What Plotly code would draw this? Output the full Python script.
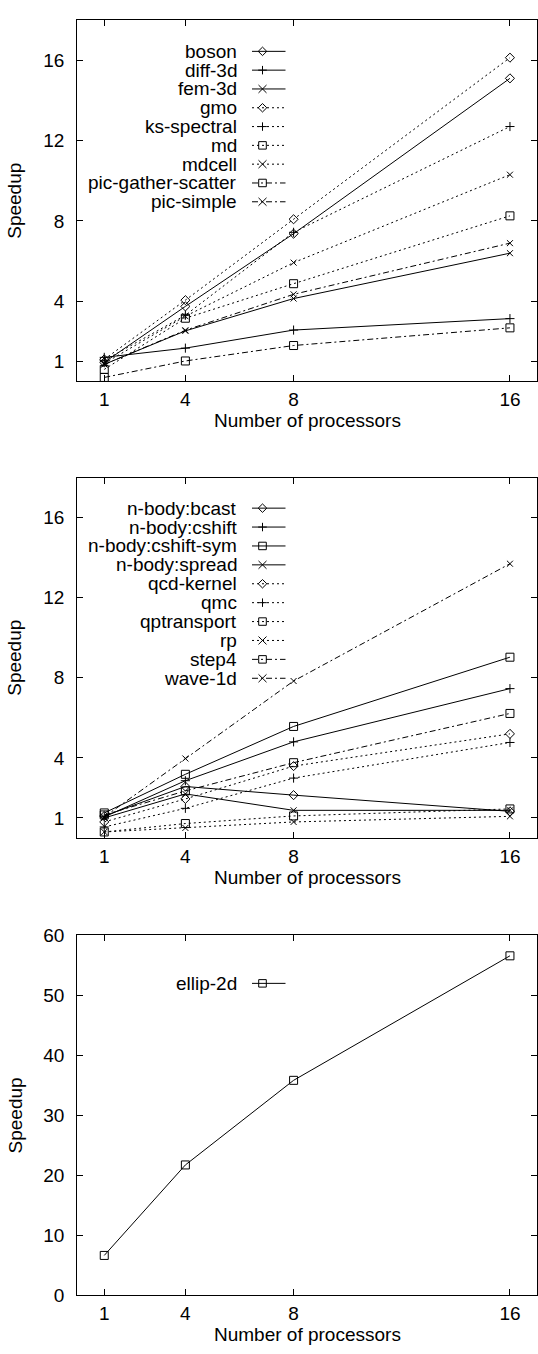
import plotly.graph_objects as go

W, H = 538, 1354
procs = [1, 4, 8, 16]

# ---------------- Panel 1 data ----------------
p1_names = ["boson", "diff-3d", "fem-3d", "gmo", "ks-spectral", "md",
            "mdcell", "pic-gather-scatter", "pic-simple"]
boson = [0.95, 3.74, 7.36, 15.1]
diff_3d = [1.2, 1.66, 2.56, 3.13]
fem_3d = [0.85, 2.52, 4.13, 6.39]
gmo = [1.1, 4.05, 8.08, 16.13]
ks_spectral = [1.05, 3.3, 7.43, 12.7]
md = [0.6, 3.15, 4.87, 8.25]
mdcell = [0.9, 3.25, 5.92, 10.3]
pic_gather_scatter = [0.2, 1.02, 1.79, 2.67]
pic_simple = [0.85, 2.55, 4.34, 6.89]
p1_values = [boson, diff_3d, fem_3d, gmo, ks_spectral, md, mdcell,
             pic_gather_scatter, pic_simple]

# ---------------- Panel 2 data ----------------
p2_names = ["n-body:bcast", "n-body:cshift", "n-body:cshift-sym", "n-body:spread",
            "qcd-kernel", "qmc", "qptransport", "rp", "step4", "wave-1d"]
nbody_bcast = [1.1, 2.57, 2.14, 1.33]
nbody_cshift = [1.05, 2.86, 4.8, 7.46]
nbody_cshift_sym = [1.25, 3.18, 5.57, 9.03]
nbody_spread = [1.0, 2.2, 1.38, 1.38]
qcd_kernel = [0.8, 1.95, 3.59, 5.2]
qmc = [0.55, 1.48, 2.99, 4.77]
qptransport = [0.3, 0.72, 1.1, 1.45]
rp = [0.3, 0.5, 0.8, 1.08]
step4 = [1.15, 2.35, 3.76, 6.22]
wave_1d = [1.05, 3.97, 7.84, 13.7]
p2_values = [nbody_bcast, nbody_cshift, nbody_cshift_sym, nbody_spread,
             qcd_kernel, qmc, qptransport, rp, step4, wave_1d]

# ---------------- Panel 3 data ----------------
p3_names = ["ellip-2d"]
ellip_2d = [6.67, 21.75, 35.85, 56.6]
p3_values = [ellip_2d]

# tick labels
x_ticks = [1, 4, 8, 16]
y_ticks_12 = [1, 4, 8, 12, 16]
y_ticks_3 = [0, 10, 20, 30, 40, 50, 60]

# ---------------- styles ----------------
SOLID, DOT, DASHDOT = "solid", "2px,3px", "6px,3px,2px,3px"
p1_styles = [(SOLID, "diamond"), (SOLID, "plus"), (SOLID, "x"),
             (DOT, "diamond"), (DOT, "plus"), (DOT, "square"), (DOT, "x"),
             (DASHDOT, "square"), (DASHDOT, "x")]
p2_styles = [(SOLID, "diamond"), (SOLID, "plus"), (SOLID, "square"), (SOLID, "x"),
             (DOT, "diamond"), (DOT, "plus"), (DOT, "square"), (DOT, "x"),
             (DASHDOT, "square"), (DASHDOT, "x")]
p3_styles = [(SOLID, "square")]

SYM = {"diamond": ("diamond-open", 7), "plus": ("cross-thin-open", 6.5),
       "x": ("x-thin-open", 6), "square": ("square-open", 8)}

FONT = "Liberation Sans, Arial, Helvetica, sans-serif"
FS = 19

# layout geometry (pixels)
X_LEFT, X_RIGHT = 77.2, 537.0
panels = [  # top, bottom in px
    (10.3, 377.3),
    (475.0, 841.0),
    (940.0, 1305.7),
]
legend_start = [42.0, 506.0, 988.7]
legend_step = [19.1, 19.2, 19.2]
LEG_TEXT_X = 239.0
LEG_LINE_X0, LEG_LINE_X1 = 252.0, 285.5
LEG_MARK_X = 262.5
XTITLE_OFFSET = 40


def px(xp):
    return xp / W


def py(yp):
    return 1 - yp / H


fig = go.Figure()
shapes = []
annotations = []

all_panels = [(p1_names, p1_values, p1_styles),
              (p2_names, p2_values, p2_styles),
              (p3_names, p3_values, p3_styles)]

for k, (names, values, styles) in enumerate(all_panels):
    axs = "" if k == 0 else str(k + 1)
    for name, vals, (dash, sym) in zip(names, values, styles):
        s, sz = SYM[sym]
        fig.add_trace(go.Scatter(
            x=procs, y=vals, name=name, mode="lines+markers",
            xaxis="x" + axs, yaxis="y" + axs,
            line=dict(color="black", width=1, dash=dash),
            marker=dict(symbol=s, size=sz, color="black",
                        line=dict(color="black", width=1)),
            showlegend=False, cliponaxis=False,
        ))
    # manual gnuplot-style key
    for i, (name, (dash, sym)) in enumerate(zip(names, styles)):
        cy = legend_start[k] + i * legend_step[k]
        annotations.append(dict(
            x=px(LEG_TEXT_X), y=py(cy), xref="paper", yref="paper",
            text=name, showarrow=False, xanchor="right", yanchor="middle",
            font=dict(family=FONT, size=FS, color="black")))
        shapes.append(dict(type="line", xref="paper", yref="paper",
                           x0=px(LEG_LINE_X0), x1=px(LEG_LINE_X1),
                           y0=py(cy), y1=py(cy),
                           line=dict(color="black", width=1, dash=dash)))
        h = 4.3
        cx = LEG_MARK_X
        if sym == "diamond":
            pts = [(cx, cy - h), (cx + h, cy), (cx, cy + h), (cx - h, cy)]
            path = "M" + " L".join(f"{px(a)},{py(b)}" for a, b in pts) + " Z"
        elif sym == "square":
            q = 3.8
            pts = [(cx - q, cy - q), (cx + q, cy - q), (cx + q, cy + q), (cx - q, cy + q)]
            path = "M" + " L".join(f"{px(a)},{py(b)}" for a, b in pts) + " Z"
        elif sym == "plus":
            path = (f"M{px(cx - h)},{py(cy)} L{px(cx + h)},{py(cy)} "
                    f"M{px(cx)},{py(cy - h)} L{px(cx)},{py(cy + h)}")
        else:
            q = 4.0
            path = (f"M{px(cx - q)},{py(cy - q)} L{px(cx + q)},{py(cy + q)} "
                    f"M{px(cx + q)},{py(cy - q)} L{px(cx - q)},{py(cy + q)}")
        shapes.append(dict(type="path", xref="paper", yref="paper", path=path,
                           line=dict(color="black", width=1),
                           fillcolor="rgba(0,0,0,0)"))

    top, bot = panels[k]
    # axis titles
    annotations.append(dict(
        x=px((X_LEFT + X_RIGHT) / 2), y=py(bot + XTITLE_OFFSET), xref="paper", yref="paper",
        text="Number of processors", showarrow=False, xanchor="center", yanchor="middle",
        font=dict(family=FONT, size=FS, color="black")))
    annotations.append(dict(
        x=px(15), y=py((top + bot) / 2), xref="paper", yref="paper",
        text="Speedup", showarrow=False, textangle=-90, xanchor="center", yanchor="middle",
        font=dict(family=FONT, size=FS, color="black")))

axis_common = dict(showline=True, linecolor="black", linewidth=1, mirror="allticks",
                   ticks="inside", ticklen=6, tickcolor="black", tickwidth=1,
                   showgrid=False, zeroline=False,
                   tickfont=dict(family=FONT, size=FS, color="black"))

layout = dict(width=W, height=H, margin=dict(l=0, r=0, t=0, b=0),
              plot_bgcolor="white", paper_bgcolor="white", showlegend=False,
              font=dict(family=FONT, size=FS, color="black"),
              shapes=shapes, annotations=annotations)

for k in range(3):
    top, bot = panels[k]
    sfx = "" if k == 0 else str(k + 1)
    layout["xaxis" + sfx] = dict(domain=[px(X_LEFT), px(X_RIGHT)], range=[0, 17],
                                 tickvals=x_ticks, ticktext=[str(v) for v in x_ticks],
                                 anchor="y" + sfx, ticklabelstandoff=1,
                                 **axis_common)
    yt = y_ticks_3 if k == 2 else y_ticks_12
    layout["yaxis" + sfx] = dict(domain=[py(bot), py(top)],
                                 range=[0, 60] if k == 2 else [0, 18],
                                 tickvals=yt, ticktext=[str(v) for v in yt],
                                 anchor="x" + sfx, ticklabelstandoff=8,
                                 **axis_common)

fig.update_layout(**layout)
fig.write_html("out.html")
